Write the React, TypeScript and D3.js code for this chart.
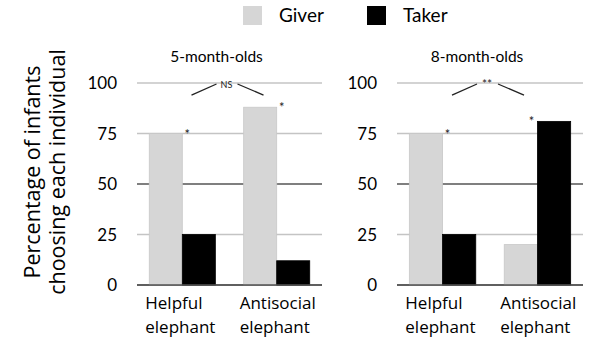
import React from "react";
import * as d3 from "d3";

const categories = ["Helpful elephant", "Antisocial elephant"];
const categoryLines = [["Helpful", "elephant"], ["Antisocial", "elephant"]];
const series = ["Giver", "Taker"];
const panels = ["5-month-olds", "8-month-olds"];
// values[panel][category] = [Giver, Taker]
const giver5 = [75, 88];
const taker5 = [25, 12];
const giver8 = [75, 20];
const taker8 = [25, 81];
const yTicks = [0, 25, 50, 75, 100];
const pairSig = ["NS", "**"];
// star markers: [category index, series index] per panel
const stars5 = [[0, 0], [1, 0]];
const stars8 = [[0, 0], [1, 1]];

const colors: Record<string, string> = { Giver: "#d6d6d6", Taker: "#000000" };

export default function App() {
  const W = 610, H = 360;
  const y = d3.scaleLinear().domain([0, 100]).range([285, 83]);
  const panelX = [[137, 322], [397, 583]];
  const data = [
    [giver5, taker5],
    [giver8, taker8],
  ];
  const stars = [stars5, stars8];
  const gridColor = (t: number) => (t === 0 || t === 50 ? "#555" : "#c4c4c4");
  const labelFont = "'Open Sans', 'Noto Sans', sans-serif";
  const gillFont = "Lato, 'Open Sans', sans-serif";

  return (
    <svg width={W} height={H} style={{ position: "absolute", left: 0, top: 0, background: "#fff" }}>
      {/* legend */}
      {series.map((s, i) => {
        const x0 = i === 0 ? 243 : 367;
        return (
          <g key={s}>
            <rect x={x0} y={6} width={19} height={19} fill={colors[s]} />
            <text x={x0 + 36} y={22} fontFamily={gillFont} fontSize={19} fill="#000">{s}</text>
          </g>
        );
      })}
      {/* y axis label */}
      <g transform="translate(40,172) rotate(-90)">
        <text x={0} y={0} textAnchor="middle" fontFamily={labelFont} fontSize={21.5} fill="#000">Percentage of infants</text>
        <text x={0} y={25} textAnchor="middle" fontFamily={labelFont} fontSize={21.5} fill="#000">choosing each individual</text>
      </g>
      {panels.map((title, p) => {
        const [x0, x1] = panelX[p];
        const xb = d3.scaleBand().domain(categories).range([x0, x1]).paddingInner(0.3).paddingOuter(0.13);
        const xs = d3.scaleBand().domain(series).range([0, xb.bandwidth()]).padding(0);
        const vals = data[p];
        const c0 = (xb(categories[0]) as number) + xb.bandwidth() / 2;
        const c1 = (xb(categories[1]) as number) + xb.bandwidth() / 2;
        const mid = (c0 + c1) / 2;
        return (
          <g key={title}>
            <text x={(x0 + x1) / 2 - 13} y={62} textAnchor="middle" fontFamily={gillFont} fontSize={15.5} fill="#000">{title}</text>
            {yTicks.map((t) => (
              <g key={t}>
                <line x1={x0} x2={x1} y1={y(t)} y2={y(t)} stroke={gridColor(t)} strokeWidth={t === 0 || t === 50 ? 1.6 : 1.3} />
                <text x={x0 - 20} y={y(t) + 6} textAnchor="end" fontFamily={gillFont} fontSize={17} fill="#000">{t}</text>
              </g>
            ))}
            {categories.map((c, ci) => (
              <g key={c}>
                {series.map((s, si) => (
                  <rect
                    key={s}
                    x={(xb(c) as number) + (xs(s) as number)}
                    y={y(vals[si][ci])}
                    width={xs.bandwidth()}
                    height={y(0) - y(vals[si][ci])}
                    fill={colors[s]}
                    stroke={s === "Giver" ? "#c8c8c8" : "#000"}
                    strokeWidth={0.8}
                  />
                ))}
                {categoryLines[ci].map((ln, li) => (
                  <text key={li} x={(xb(c) as number) - 4} y={309 + li * 24} fontFamily={labelFont} fontSize={17} fill="#000">{ln}</text>
                ))}
              </g>
            ))}
            {/* y axis baseline over bars */}
            <line x1={x0} x2={x1} y1={y(0)} y2={y(0)} stroke="#555" strokeWidth={1.6} />
            {/* stars */}
            {stars[p].map(([ci, si], k) => {
              const bx = (xb(categories[ci]) as number) + (xs(series[si]) as number);
              const sx = si === 0 ? bx + xs.bandwidth() + 5 : bx - 6;
              return (
                <text key={k} x={sx} y={y(vals[si][ci]) + 5} textAnchor="middle" fontFamily={gillFont} fontSize={13} fill="#222">*</text>
              );
            })}
            {/* pairwise significance */}
            <line x1={mid - 38} y1={y(94)} x2={mid - 13} y2={y(99.5)} stroke="#222" strokeWidth={1.3} />
            <line x1={mid + 8} y1={y(99.5)} x2={mid + 34} y2={y(94)} stroke="#222" strokeWidth={1.3} />
            <text x={mid - 3} y={y(100) + 5} textAnchor="middle" fontFamily={gillFont} fontSize={p === 0 ? 9 : 12} fill="#222">{pairSig[p]}</text>
          </g>
        );
      })}
    </svg>
  );
}
